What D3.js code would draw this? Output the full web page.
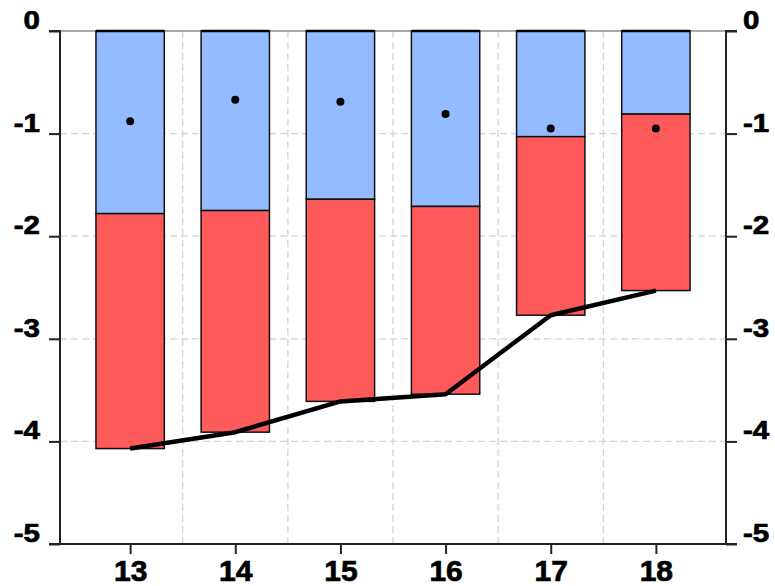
<!DOCTYPE html>
<html>
<head>
<meta charset="utf-8">
<script src="https://cdn.jsdelivr.net/npm/d3@7"></script>
<style>
  html, body { margin: 0; padding: 0; background: #fff; }
  svg { display: block; }
  text { font-family: "Liberation Sans", Arial, sans-serif; font-weight: bold; fill: #000;
         stroke: #000; stroke-width: 0.7px; }
</style>
</head>
<body>
<svg id="chart" width="775" height="586"></svg>
<script>
// Years (two-digit) along the bottom axis
const years = [13, 14, 15, 16, 17, 18];
// Upper stacked component (blue)
const blueVals = [-1.78, -1.75, -1.64, -1.71, -1.03, -0.81];
// Lower stacked component (red), stacked beneath the blue part
const redVals = [-2.29, -2.16, -1.97, -1.83, -1.74, -1.72];
// Overall balance drawn as the black line
const totalVals = [-4.07, -3.91, -3.61, -3.54, -2.77, -2.53];
// Black dot markers
const dotVals = [-0.88, -0.67, -0.69, -0.81, -0.95, -0.95];
// Vertical axis ticks
const yTicks = [0, -1, -2, -3, -4, -5];

const svg = d3.select("#chart");
const plotL = 60, plotR = 726, plotT = 31, plotB = 544;

const x = d3.scaleLinear().domain([12.333, 18.667]).range([plotL, plotR]);
const y = d3.scaleLinear().domain([0, -5]).range([plotT, plotB]);
const barW = x(13.65) - x(13);
const fmt = d => String(d);  // plain hyphen-minus

// Grid lines
const grid = svg.append("g").attr("stroke", "#d4d4d4").attr("stroke-width", 1.3)
  .attr("stroke-dasharray", "7,4");
grid.selectAll("line.h").data(yTicks.filter(d => d < 0 && d > -5)).join("line")
  .attr("class", "h")
  .attr("x1", plotL).attr("x2", plotR).attr("y1", d => y(d)).attr("y2", d => y(d));
grid.selectAll("line.v").data(years.slice(0, -1).map(d => d + 0.5)).join("line")
  .attr("class", "v")
  .attr("y1", plotT).attr("y2", plotB).attr("x1", d => x(d)).attr("x2", d => x(d));

// Top frame line
svg.append("line").attr("x1", plotL).attr("x2", plotR).attr("y1", plotT).attr("y2", plotT)
  .attr("stroke", "#8c8c8c").attr("stroke-width", 1.5);

// Stacked bars
const bars = svg.append("g");
years.forEach((yr, i) => {
  const b = blueVals[i], r = redVals[i];
  bars.append("rect")
    .attr("x", x(yr) - barW / 2).attr("width", barW)
    .attr("y", y(0)).attr("height", y(b) - y(0))
    .attr("fill", "#94bbff").attr("stroke", "#111").attr("stroke-width", 1.5);
  bars.append("rect")
    .attr("x", x(yr) - barW / 2).attr("width", barW)
    .attr("y", y(b)).attr("height", y(b + r) - y(b))
    .attr("fill", "#ff5a5a").attr("stroke", "#111").attr("stroke-width", 1.5);
});
// Heavier top edge of the bars
bars.selectAll("line.topedge").data(years).join("line")
  .attr("class", "topedge")
  .attr("x1", d => x(d) - barW / 2).attr("x2", d => x(d) + barW / 2)
  .attr("y1", y(0)).attr("y2", y(0)).attr("stroke", "#000").attr("stroke-width", 2.5);

// Total line
const line = d3.line().x((d, i) => x(years[i])).y(d => y(d));
svg.append("path").datum(totalVals).attr("d", line)
  .attr("fill", "none").attr("stroke", "#000").attr("stroke-width", 4.5)
  .attr("stroke-linejoin", "round");

// Dots
svg.append("g").selectAll("circle").data(dotVals).join("circle")
  .attr("cx", (d, i) => x(years[i])).attr("cy", d => y(d)).attr("r", 4)
  .attr("fill", "#000");

// Axes
const yAxisL = d3.axisLeft(y).tickValues(yTicks).tickSize(11).tickFormat(fmt);
const yAxisR = d3.axisRight(y).tickValues(yTicks).tickSize(11).tickFormat(fmt);
const xAxis = d3.axisBottom(x).tickValues(years).tickSize(10).tickFormat(fmt);

function styleAxis(g) {
  g.select(".domain").attr("stroke", "#222").attr("stroke-width", 2);
  g.selectAll(".tick line").attr("stroke", "#222").attr("stroke-width", 2);
}

const gl = svg.append("g").attr("transform", `translate(${plotL},0)`).call(yAxisL).call(styleAxis);
gl.select(".domain").attr("d", `M-11,${plotT}H0V${plotB}H-11`);
gl.selectAll(".tick text").attr("font-size", 25).attr("font-family", null)
  .attr("x", 0).attr("dy", "-0.1em").attr("text-anchor", "end")
  .attr("transform", "translate(-20,0) scale(1.18,1)");

const gr = svg.append("g").attr("transform", `translate(${plotR},0)`).call(yAxisR).call(styleAxis);
gr.select(".domain").attr("d", `M11,${plotT}H0V${plotB}H11`);
gr.selectAll(".tick text").attr("font-size", 25).attr("font-family", null)
  .attr("x", 0).attr("dy", "-0.1em").attr("text-anchor", "start")
  .attr("transform", "translate(17,0) scale(1.18,1)");

const gx = svg.append("g").attr("transform", `translate(0,${plotB})`).call(xAxis).call(styleAxis);
gx.select(".domain").attr("d", `M${plotL},0H${plotR}`);
gx.selectAll(".tick text").attr("font-size", 30).attr("font-family", null)
  .attr("y", 16).attr("dy", "0.71em");
</script>
</body>
</html>
